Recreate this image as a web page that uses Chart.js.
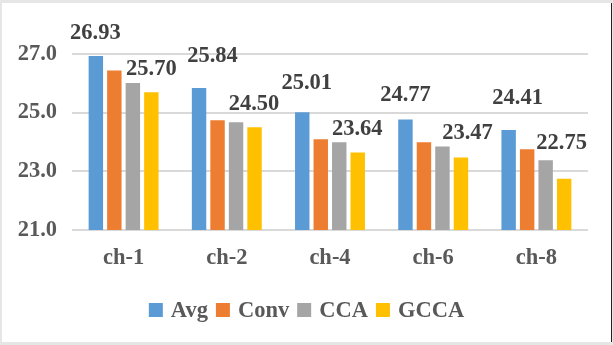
<!DOCTYPE html>
<html>
<head>
<meta charset="utf-8">
<script src="https://cdn.jsdelivr.net/npm/chart.js@4/dist/chart.umd.min.js"></script>
<style>
html,body{margin:0;padding:0;background:#fff;}
#wrap{position:relative;width:613px;height:345px;overflow:hidden;background:#fff;}
#c{position:absolute;left:0;top:0;}
.b{position:absolute;background:#e6e6e6;}
</style>
</head>
<body>
<div id="wrap">
<canvas id="c" width="613" height="345"></canvas>
<div class="b" style="left:0;top:0;width:613px;height:3px;"></div>
<div class="b" style="left:0;top:0;width:2px;height:345px;"></div>
<div class="b" style="left:0;top:342px;width:613px;height:3px;"></div>
<div class="b" style="left:611px;top:3px;width:1px;height:339px;background:#222;"></div>
<div class="b" style="left:612px;top:0;width:1px;height:345px;"></div>
</div>
<script>
const categories = ["ch-1", "ch-2", "ch-4", "ch-6", "ch-8"];
const avgValues  = [26.93, 25.84, 25.01, 24.77, 24.41];
const convValues = [26.44, 24.74, 24.09, 23.99, 23.75];
const ccaValues  = [26.01, 24.67, 23.99, 23.85, 23.38];
const gccaValues = [25.70, 24.50, 23.64, 23.47, 22.75];
const yTicks = [21.0, 23.0, 25.0, 27.0];

const FONT = '"Liberation Serif", "Times New Roman", serif';
const FS = 22.5;

// hand-placed label offsets (px) relative to bar top centre: [dx, gap above bar]
const labelPlacement = {
  0: [[-0.5, 17], [13.5, 26], [4.5, 23], [0, 18], [9, 26]],
  3: [[0, 17], [-0.5, 17], [-0.5, 18], [6.5, 19], [-2.5, 30]]
};

const valueLabels = {
  id: 'valueLabels',
  afterDatasetsDraw(chart) {
    const ctx = chart.ctx;
    ctx.save();
    ctx.font = 'bold ' + FS + 'px ' + FONT;
    ctx.fillStyle = '#404040';
    ctx.textAlign = 'center';
    ctx.textBaseline = 'alphabetic';
    Object.keys(labelPlacement).forEach(k => {
      const di = Number(k);
      const meta = chart.getDatasetMeta(di);
      const data = chart.data.datasets[di].data;
      meta.data.forEach((bar, i) => {
        const [dx, gap] = labelPlacement[k][i];
        ctx.fillText(data[i].toFixed(2), bar.x + dx, bar.y - gap);
      });
    });
    ctx.restore();
  }
};

const bottomLegend = {
  id: 'bottomLegend',
  afterDraw(chart) {
    const ctx = chart.ctx;
    const ds = chart.data.datasets;
    ctx.save();
    ctx.font = 'bold ' + FS + 'px ' + FONT;
    const box = 14, gapText = 8, gapItem = 8;
    const widths = ds.map(d => ctx.measureText(d.label).width);
    let total = widths.reduce((a, w) => a + box + gapText + w, 0) + gapItem * (ds.length - 1);
    let x = (chart.width - total) / 2;
    const baseY = 317;
    ds.forEach((d, i) => {
      ctx.fillStyle = d.backgroundColor;
      ctx.fillRect(x, 303, box, box);
      ctx.fillStyle = '#595959';
      ctx.textAlign = 'left';
      ctx.textBaseline = 'alphabetic';
      ctx.fillText(d.label, x + box + gapText, baseY);
      x += box + gapText + widths[i] + gapItem;
    });
    ctx.restore();
  }
};

new Chart(document.getElementById('c'), {
  type: 'bar',
  data: {
    labels: categories,
    datasets: [
      {label: 'Avg',  data: avgValues,  backgroundColor: '#5B9BD5'},
      {label: 'Conv', data: convValues, backgroundColor: '#ED7D31'},
      {label: 'CCA',  data: ccaValues,  backgroundColor: '#A5A5A5'},
      {label: 'GCCA', data: gccaValues, backgroundColor: '#FFC000'}
    ]
  },
  options: {
    responsive: false,
    animation: false,
    devicePixelRatio: 1,
    layout: {padding: {left: 0, right: 25, top: 54, bottom: 69}},
    datasets: {bar: {categoryPercentage: 0.717, barPercentage: 0.78}},
    scales: {
      x: {
        afterFit(scale) { scale.height = 46; },
        grid: {display: false, drawTicks: false},
        border: {display: false},
        ticks: {color: '#595959', font: {family: FONT, size: FS, weight: 'bold'}, padding: 15}
      },
      y: {
        min: 21, max: 27,
        afterBuildTicks(scale) { scale.ticks = yTicks.map(v => ({value: v})); },
        afterFit(scale) { scale.width = 72; },
        grid: {color: '#d9d9d9', lineWidth: 2, drawTicks: false},
        border: {display: false},
        ticks: {color: '#595959', font: {family: FONT, size: FS, weight: 'bold'}, padding: 15,
                callback: v => Number(v).toFixed(1)}
      }
    },
    plugins: {
      legend: {display: false},
      tooltip: {enabled: false}
    }
  },
  plugins: [valueLabels, bottomLegend]
});
</script>
</body>
</html>
